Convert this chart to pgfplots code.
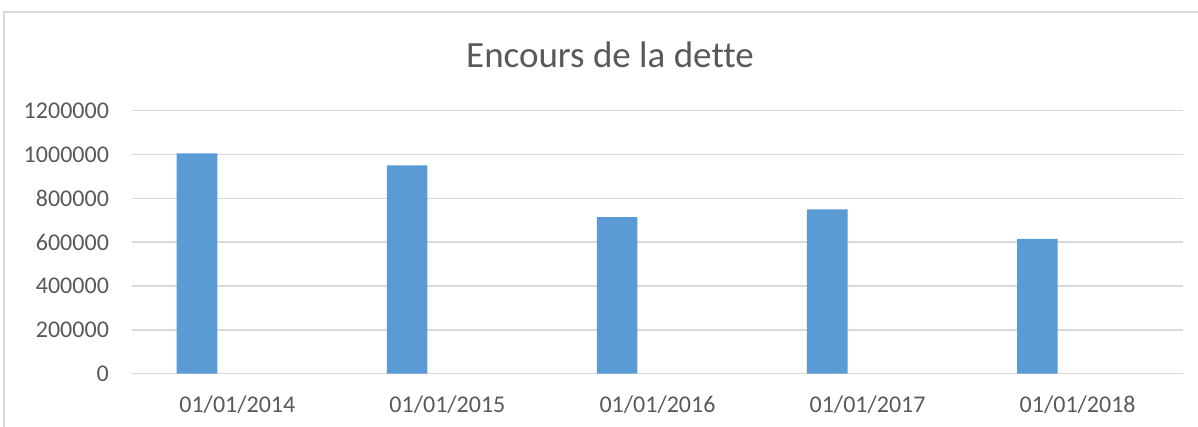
\documentclass[border=0pt]{standalone}
\usepackage{pgfplots}
\pgfplotsset{compat=1.18}
\usepackage{fontspec}
\setmainfont[Ligatures=NoCommon]{Carlito}
\definecolor{barblue}{HTML}{5B9BD5}
\definecolor{gridgray}{HTML}{D9D9D9}
\definecolor{txtgray}{HTML}{595959}
\begin{document}
\begin{tikzpicture}
\useasboundingbox (-66.15pt,-26.65pt) rectangle (532.85pt,186.85pt);
\fill[white] (-66.15pt,-26.65pt) rectangle (532.85pt,186.85pt);
\draw[gridgray, line width=0.9pt] (-64.15pt,-30pt) -- (-64.15pt,180.85pt) -- (540pt,180.85pt);
\begin{axis}[
  at={(0pt,0pt)}, anchor=south west,
  scale only axis,
  width=525.2pt, height=131.5pt,
  xmin=-0.5, xmax=4.5,
  ymin=0, ymax=1200000,
  xtick={0,1,2,3,4},
  xticklabels={01/01/2014,01/01/2015,01/01/2016,01/01/2017,01/01/2018},
  ytick={0,200000,400000,600000,800000,1000000,1200000},
  scaled y ticks=false,
  yticklabel style={/pgf/number format/fixed, /pgf/number format/1000 sep={}, /pgf/number format/assume math mode=true,
    font=\fontsize{12}{14}\selectfont, text=txtgray, anchor=east, inner sep=0pt, xshift=-11.5pt},
  xticklabel style={font=\fontsize{12}{14}\selectfont, text=txtgray, anchor=base, inner sep=0pt, yshift=-19.5pt},
  major tick length=0pt,
  axis line style={draw=none},
  ymajorgrids,
  major grid style={gridgray, line width=0.75pt},
  ybar,
  bar width=0.193,
  bar shift=-0.192,
]
\addplot[fill=barblue, draw=none] coordinates {
  (0,1005000) (1,951000) (2,714000) (3,750000) (4,615000)
};
\end{axis}
\node[anchor=base, text=txtgray, font=\fontsize{18.5}{22}\selectfont] at (238.85pt,153pt) {Encours de la dette};
\end{tikzpicture}
\end{document}
